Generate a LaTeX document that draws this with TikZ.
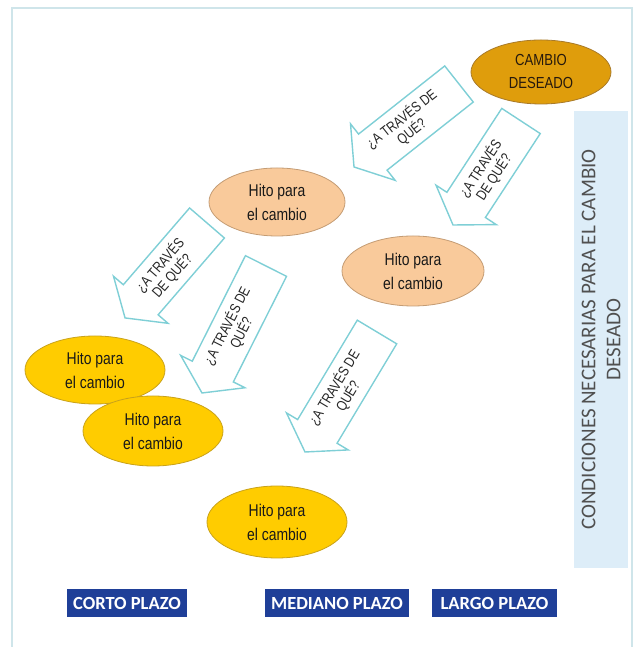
\documentclass[tikz,border=0pt]{standalone}
\usepackage{fontspec}
\setmainfont{Liberation Sans}
\newfontfamily\estrecha[FakeStretch=0.82]{Liberation Sans}
\newfontfamily\carlito{Carlito}
\usepackage{tikz}
\usetikzlibrary{positioning,shapes.geometric}

\definecolor{marco}{HTML}{CFE5EA}
\definecolor{flechabrd}{HTML}{7FCFD6}
\definecolor{oro}{HTML}{DF9D0C}
\definecolor{orobrd}{HTML}{A87A2A}
\definecolor{salmon}{HTML}{F9CA9B}
\definecolor{salmonbrd}{HTML}{C49C74}
\definecolor{amarillo}{HTML}{FFCC00}
\definecolor{amarillobrd}{HTML}{C9A21A}
\definecolor{celeste}{HTML}{DDEDF8}
\definecolor{azulplazo}{HTML}{1F3F98}
\definecolor{gristxt}{HTML}{505050}

\begin{document}
\begin{tikzpicture}[x=1pt,y=1pt,
    hito/.style={ellipse,inner sep=0pt,align=center,text=black!90,line width=0.8pt,
      minimum width=140pt,minimum height=70pt,font=\estrecha\fontsize{17}{24}\selectfont},
    flecha/.style={draw=flechabrd,fill=white,line width=1.4pt,line join=miter},
    pregunta/.style={align=center,inner sep=0pt,text=black!85,font=\estrecha\fontsize{14.5}{14}\selectfont},
    plazo/.style={fill=azulplazo,text=white,inner sep=0pt,minimum height=28pt,
      font=\carlito\bfseries\fontsize{18.5}{20}\selectfont}]
    \useasboundingbox (0,0) rectangle (641,647);
    % marco
    \draw[marco,line width=1.2pt] (12,0) -- (12,639) -- (632,639) -- (632,0);
    % flechas: cola x/y, punta x/y, dos lineas
    \foreach \i/\tx/\ty/\px/\py/\la/\lb in {
        1/459/563/354/480/¿A TRAVÉS DE/QUÉ?,
        2/521/526/453/422/¿A TRAVÉS/DE QUÉ?,
        3/207/424/125/329/¿A TRAVÉS/DE QUÉ?,
        4/266/381/202/254/¿A TRAVÉS DE/QUÉ?,
        5/377/315/305/195/¿A TRAVÉS DE/QUÉ?
    } {
      \pgfmathsetmacro{\ang}{atan2(\py-\ty,\px-\tx)}
      \pgfmathsetmacro{\lon}{veclen(\px-\tx,\py-\ty)}
      \draw[flecha,shift={(\tx,\ty)},rotate=\ang] (0,23) -- (\lon-24,23) -- (\lon-24,36) -- (\lon,0)
        -- (\lon-24,-36) -- (\lon-24,-23) -- (0,-23) -- cycle;
      \node[pregunta,rotate=\ang-180] (q\i) at ({(\tx+\px)/2},{(\ty+\py)/2}) {\la\\\lb};
    }
    % elipses
    \node[hito,fill=oro,draw=orobrd,minimum height=64pt,text=black!80!brown,
      font=\estrecha\fontsize{16}{23}\selectfont] (deseado) at (541,575) {CAMBIO\\DESEADO};
    \node[hito,fill=salmon,draw=salmonbrd,minimum width=136pt,minimum height=68pt] (hito1) at (277,445) {Hito para\\el cambio};
    \node[hito,fill=salmon,draw=salmonbrd,minimum width=142pt] (hito2) at (413,376) {Hito para\\el cambio};
    \node[hito,fill=amarillo,draw=amarillobrd,minimum height=68pt] (hito3) at (95,277) {Hito para\\el cambio};
    \node[hito,fill=amarillo,draw=amarillobrd] (hito4) at (153,216) {Hito para\\el cambio};
    \node[hito,fill=amarillo,draw=amarillobrd,minimum height=72pt] (hito5) at (277,125) {Hito para\\el cambio};
    % columna lateral
    \node[fill=celeste,rotate=90,minimum width=457pt,minimum height=54pt,inner sep=0pt,
      align=center,text=gristxt,font=\carlito\fontsize{21}{25}\selectfont] (condiciones) at (601,307.5)
      {CONDICIONES NECESARIAS PARA EL CAMBIO\\DESEADO};
    % plazos
    \node[plazo,minimum width=120pt] (corto) at (127,44) {CORTO PLAZO};
    \node[plazo,minimum width=144pt] (mediano) at (337,44) {MEDIANO PLAZO};
    \node[plazo,minimum width=125pt] (largo) at (494.5,44) {LARGO PLAZO};
\end{tikzpicture}
\end{document}
